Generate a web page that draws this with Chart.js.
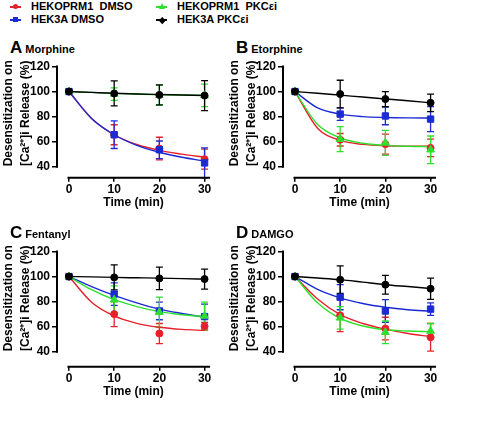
<!DOCTYPE html>
<html>
<head>
<meta charset="utf-8">
<script src="https://cdn.jsdelivr.net/npm/chart.js@4"></script>
<style>
  body { margin: 0; width: 477px; height: 421px; position: relative; overflow: hidden; background: #fff;
         font-family: "Liberation Sans", Arial, sans-serif; font-weight: bold; color: #000; }
  canvas { position: absolute; }
  .plabel { position: absolute; white-space: nowrap; line-height: 20px; }
  .plabel b { font-size: 17px; }
  .plabel span { font-size: 11px; margin-left: 3px; }
  .leg { position: absolute; font-size: 11px; white-space: nowrap; line-height: 13px; }
  .leg i { position: absolute; left: -21px; top: 6px; width: 11px; height: 1.5px; }
  .leg em { position: absolute; }
</style>
</head>
<body>
<script>
// time points (min) and the x positions used to trace the fitted curves
const times = [0, 10, 20, 30];
const fitTimes = [0, 5, 10, 15, 20, 25, 30];
const yTicks = [40, 60, 80, 100, 120];

const seriesLabels = ['HEKOPRM1\u00a0 DMSO', 'HEK3A DMSO', 'HEKOPRM1\u00a0 PKC\u03b5i', 'HEK3A PKC\u03b5i'];
const seriesColors = ['#e8202a', '#1c2ad4', '#2ee02e', '#000000'];
const seriesMarkers = ['circle', 'rect', 'triangle', 'circle'];

// each panel: [HEKOPRM1 DMSO, HEK3A DMSO, HEKOPRM1 PKCei, HEK3A PKCei]
const morphineMean = [[100, 65.5, 54.5, 46], [100, 65.5, 53.5, 43], [100, 98, 97, 97], [100, 98.5, 97.3, 96.8]];
const morphineSem = [[0, 8, 9, 8], [0, 11, 7, 12], [0, 5, 8, 9], [0, 10, 8, 12]];
const morphineFit = [[100, 78.5, 65.5, 57.7, 53, 50, 47.5], [100, 78.5, 65.5, 57, 51.5, 47.5, 44.5],
                     [100, 99.3, 98.5, 98, 97.5, 97.2, 97], [100, 99.3, 98.6, 98, 97.6, 97.2, 96.8]];

const etorphineMean = [[100, 61.5, 58, 55], [100, 82, 80.5, 78], [100, 62, 59, 53.5], [100, 98, 94, 91]];
const etorphineSem = [[0, 5, 8, 7], [0, 5, 7, 10], [0, 10, 10, 11], [0, 11, 6, 7]];
const etorphineFit = [[100, 70.7, 61, 57.8, 56.7, 56.4, 56.3], [100, 87, 82, 80, 79.3, 79, 78.9],
                      [100, 73.7, 63, 58.7, 57, 56.3, 56], [100, 98.6, 97.1, 95.6, 94.1, 92.6, 91]];

const fentanylMean = [[100, 70, 54.5, 60.3], [100, 86, 72.5, 68], [100, 81.5, 71.5, 68.5], [100, 99.3, 98.5, 98]];
const fentanylSem = [[0, 10, 8, 3], [0, 9, 7, 10], [0, 11, 12, 11], [0, 10, 9, 8]];
const fentanylFit = [[100, 79.5, 68.5, 62.6, 59.5, 57.8, 57], [100, 92, 85, 79, 74, 70.5, 67.5],
                     [100, 89.5, 81.5, 76, 72, 69.5, 68], [100, 99.7, 99.3, 99, 98.7, 98.3, 98]];

const damgoMean = [[100, 69, 58.5, 51.5], [100, 83.5, 72.5, 74], [100, 67, 55.5, 56.5], [100, 97.5, 93.5, 90.3]];
const damgoSem = [[0, 13, 9, 11], [0, 10, 9, 5], [0, 9, 9, 6], [0, 11, 7.5, 8.5]];
const damgoFit = [[100, 82, 69.5, 62.5, 58, 54.5, 52], [100, 89.8, 83, 78.5, 75.5, 73.5, 72.3],
                  [100, 79, 66.5, 60.5, 57.5, 56.5, 56], [100, 98.8, 97.5, 95.5, 93.5, 92, 90.5]];

const panels = [
  { letter: 'A', name: 'Morphine', mean: morphineMean, sem: morphineSem, fit: morphineFit, left: 0, top: 52, height: 175, yMin: 31.2 },
  { letter: 'B', name: 'Etorphine', mean: etorphineMean, sem: etorphineSem, fit: etorphineFit, left: 226, top: 52, height: 175, yMin: 31.2 },
  { letter: 'C', name: 'Fentanyl', mean: fentanylMean, sem: fentanylSem, fit: fentanylFit, left: 0, top: 237, height: 179, yMin: 28 },
  { letter: 'D', name: 'DAMGO', mean: damgoMean, sem: damgoSem, fit: damgoFit, left: 226, top: 237, height: 179, yMin: 28 }
];

// legend
const legPos = [[31, 0], [31, 13], [177, 0], [177, 13]];
seriesLabels.forEach((lab, i) => {
  const d = document.createElement('div');
  d.className = 'leg';
  d.style.left = legPos[i][0] + 'px';
  d.style.top = legPos[i][1] + 'px';
  d.textContent = lab;
  const line = document.createElement('i');
  line.style.background = seriesColors[i];
  d.appendChild(line);
  const m = document.createElement('em');
  if (i === 2) {
    m.style.cssText = 'left:-18px;top:3px;width:0;height:0;border-left:3px solid transparent;border-right:3px solid transparent;border-bottom:6px solid ' + seriesColors[i];
  } else if (i === 3) {
    m.style.cssText = 'left:-17.5px;top:4.5px;width:4.5px;height:4.5px;transform:rotate(45deg);background:#000';
  } else {
    m.style.cssText = 'left:-18px;top:4px;width:5px;height:5px;background:' + seriesColors[i] + (i === 0 ? ';border-radius:50%' : '');
  }
  d.appendChild(m);
  document.body.appendChild(d);
});

const errorBars = {
  id: 'errorBars',
  beforeDatasetsDraw(chart) {
    const { ctx, scales: { x, y } } = chart;
    const sets = chart.data.datasets.filter(ds => ds.sem).slice().reverse();
    ctx.save();
    ctx.lineWidth = 1.3;
    sets.forEach(ds => {
      ctx.strokeStyle = ds.borderColor;
      ds.data.forEach((pt, k) => {
        const e = ds.sem[k];
        if (!e) return;
        const px = x.getPixelForValue(pt.x);
        const top = y.getPixelForValue(pt.y + e);
        const bot = y.getPixelForValue(pt.y - e);
        ctx.beginPath();
        ctx.moveTo(px, top); ctx.lineTo(px, bot);
        ctx.moveTo(px - 3.5, top); ctx.lineTo(px + 3.5, top);
        ctx.moveTo(px - 3.5, bot); ctx.lineTo(px + 3.5, bot);
        ctx.stroke();
      });
    });
    ctx.restore();
  }
};

// GraphPad-style detached axes; also centre the y title on the 40-120 range
const axisLines = {
  id: 'axisLines',
  afterLayout(chart) {
    const y = chart.scales.y;
    const target = (y.getPixelForValue(40) + y.getPixelForValue(120)) / 2 - 3.3;
    const d = target - (y.top + y.bottom) / 2;
    y.top += d;
    y.bottom += d;
  },
  afterDraw(chart) {
    const { ctx, chartArea, scales: { x, y } } = chart;
    ctx.save();
    ctx.strokeStyle = '#000';
    ctx.lineWidth = 2;
    ctx.beginPath();
    ctx.moveTo(chartArea.left, y.getPixelForValue(120) - 1);
    ctx.lineTo(chartArea.left, y.getPixelForValue(40) + 1);
    ctx.moveTo(x.getPixelForValue(0) - 1.5, chartArea.bottom);
    ctx.lineTo(chartArea.right, chartArea.bottom);
    ctx.stroke();
    ctx.restore();
  }
};

const boldFont = { family: '"Liberation Sans", Arial, sans-serif', size: 12, weight: 'bold' };

panels.forEach(p => {
  const lbl = document.createElement('div');
  lbl.className = 'plabel';
  lbl.style.left = (p.left + 10) + 'px';
  lbl.style.top = (p.top - 14) + 'px';
  lbl.innerHTML = '<b>' + p.letter + '</b><span>' + p.name + '</span>';
  document.body.appendChild(lbl);

  const canvas = document.createElement('canvas');
  canvas.width = 236;
  canvas.height = p.height;
  canvas.style.left = p.left + 'px';
  canvas.style.top = p.top + 'px';
  document.body.appendChild(canvas);

  const datasets = [];
  for (let i = 3; i >= 0; i--) {
    datasets.push({
      data: times.map((t, k) => ({ x: t, y: p.mean[i][k] })),
      sem: p.sem[i],
      borderColor: seriesColors[i],
      backgroundColor: seriesColors[i],
      pointStyle: seriesMarkers[i],
      pointRadius: seriesMarkers[i] === 'circle' ? 3.5 : 4.5,
      pointBorderWidth: 1,
      showLine: false
    });
  }
  for (let i = 3; i >= 0; i--) {
    datasets.push({
      data: fitTimes.map((t, k) => ({ x: t, y: p.fit[i][k] })),
      borderColor: seriesColors[i],
      borderWidth: 1.4,
      pointRadius: 0,
      showLine: true,
      cubicInterpolationMode: 'monotone'
    });
  }

  new Chart(canvas, {
    type: 'scatter',
    data: { datasets },
    options: {
      responsive: false,
      animation: false,
      events: [],
      layout: { padding: { top: 14.5, right: 26, bottom: 0, left: 0 } },
      plugins: { legend: { display: false }, tooltip: { enabled: false } },
      scales: {
        x: {
          type: 'linear', min: -2.65, max: 31.2,
          afterBuildTicks: s => { s.ticks = times.map(v => ({ value: v })); },
          afterFit: s => { s.height = 49.3; },
          border: { display: false },
          grid: { drawOnChartArea: false, tickLength: 4, color: '#000', lineWidth: 1.5 },
          ticks: { color: '#000', font: boldFont, padding: 1, maxRotation: 0 },
          title: { display: true, text: 'Time (min)', color: '#000', font: boldFont, padding: { top: 0, bottom: 16.8 } }
        },
        y: {
          min: p.yMin, max: 120,
          afterBuildTicks: s => { s.ticks = yTicks.map(v => ({ value: v })); },
          afterFit: s => { s.width = 57; },
          border: { display: false },
          grid: { drawOnChartArea: false, tickLength: 5, color: '#000', lineWidth: 1.5 },
          ticks: { color: '#000', font: boldFont, padding: 2 },
          title: { display: true, text: ['Desensitization on', '[Ca\u00b2\u207a]i Release (%)'], color: '#000',
                   font: Object.assign({}, boldFont, { lineHeight: 1.42 }), padding: 0 }
        }
      }
    },
    plugins: [errorBars, axisLines]
  });
});
</script>
</body>
</html>
